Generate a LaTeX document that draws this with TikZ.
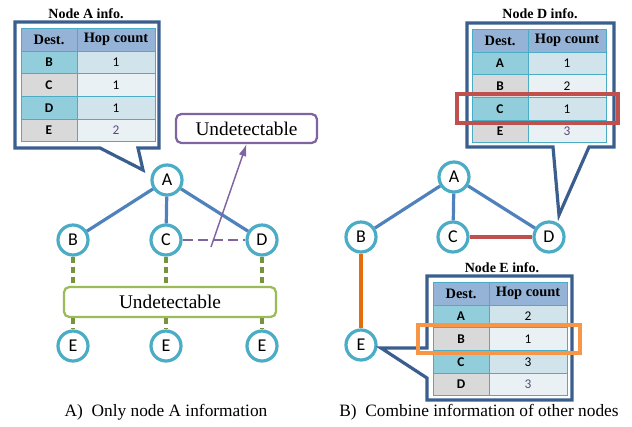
\documentclass[tikz,border=0pt]{standalone}
\usepackage{fontspec}
\setmainfont{Liberation Serif}
\newfontfamily\calib{Carlito}
\usetikzlibrary{arrows.meta}

\definecolor{circ}{HTML}{4BACC6}
\definecolor{linkblue}{HTML}{4F81BD}
\definecolor{purp}{HTML}{8064A2}
\definecolor{grnbox}{HTML}{9BBB59}
\definecolor{grndash}{HTML}{77933C}
\definecolor{redline}{HTML}{C0504D}
\definecolor{orgline}{HTML}{E46C0A}
\definecolor{orgbox}{HTML}{F79646}
\definecolor{callout}{HTML}{3A5F8F}
\definecolor{hdrfill}{HTML}{95B3D7}
\definecolor{destodd}{HTML}{92CDDC}
\definecolor{desteven}{HTML}{D9D9D9}
\definecolor{hopodd}{HTML}{D2E4EB}
\definecolor{hopeven}{HTML}{EAF1F5}
\definecolor{lastnum}{HTML}{5F497A}

\tikzset{
  peer/.style={circle, draw=circ, fill=white, line width=2.4pt,
    minimum size=22.5pt, inner sep=0pt, font=\calib\fontsize{13.5}{15}\selectfont},
  link/.style={draw=linkblue, line width=2.4pt},
  bubble/.style={draw=callout, fill=white, line width=2.4pt, line join=miter},
  grid/.style={draw=circ, line width=0.6pt},
  hdrtext/.style={font=\bfseries\fontsize{10.8}{12}\selectfont, inner sep=0pt},
  destext/.style={font=\calib\bfseries\fontsize{10}{11}\selectfont, inner sep=0pt},
  hoptext/.style={font=\calib\fontsize{10}{11}\selectfont, inner sep=0pt},
  title/.style={font=\bfseries\fontsize{10.5}{12}\selectfont, inner sep=0pt},
  notebox/.style={rounded corners=4pt, fill=white, line width=1.7pt,
    font=\fontsize{14.5}{16}\selectfont, inner sep=0pt},
  caption/.style={font=\fontsize{13}{15}\selectfont, inner sep=0pt},
  gdash/.style={draw=grndash, line width=2.5pt, dash pattern=on 4.5pt off 3pt},
  pdash/.style={draw=purp, line width=2.2pt, dash pattern=on 7.5pt off 3.8pt},
  mark box/.style={line width=2.4pt},
}

% routing table: #1 name, #2 left x, #3 divider x, #4 right x, #5 top y, #6 rows dest/hop
\newcommand{\routetable}[6]{%
  \pgfmathsetmacro{\rtHead}{#5+23}%
  \fill[hdrfill] (#2,#5) rectangle (#4,\rtHead);
  \node[hdrtext] (#1-h1) at ({(#2+#3)/2},{(#5+\rtHead)/2}) {Dest.};
  \node[hdrtext] (#1-h2) at ({(#3+#4)/2},{(#5+\rtHead)/2}) {Hop count};
  \foreach \rd/\rn [count=\ri] in {#6} {
    \pgfmathsetmacro{\ya}{\rtHead+(\ri-1)*22.7}
    \pgfmathsetmacro{\yb}{\rtHead+\ri*22.7}
    \ifodd\ri \def\dcol{destodd}\def\hcol{hopodd}\else\def\dcol{desteven}\def\hcol{hopeven}\fi
    \ifnum\ri=4 \def\ncol{lastnum}\else\def\ncol{black}\fi
    \fill[fill=\dcol] (#2,\ya) rectangle (#3,\yb);
    \fill[fill=\hcol] (#3,\ya) rectangle (#4,\yb);
    \node[destext] (#1-d\ri) at ({(#2+#3)/2},{(\ya+\yb)/2}) {\rd};
    \node[hoptext, text=\ncol] (#1-n\ri) at ({(#3+#4)/2},{(\ya+\yb)/2}) {\rn};
    \draw[grid] (#2,\ya) -- (#4,\ya);
  }
  \pgfmathsetmacro{\rtBot}{\rtHead+4*22.7}%
  \draw[grid] (#2,#5) rectangle (#4,\rtBot);
  \draw[grid] (#3,#5) -- (#3,\rtBot);
}

\begin{document}
\begin{tikzpicture}[x=0.75pt, y=-0.75pt]
\useasboundingbox (0,0) rectangle (632,426);

% ---------- A) only node A information ----------
\draw[bubble] (15,22) -- (159,22) -- (159,148) -- (138,148) -- (143,170)
  -- (100,148) -- (15,148) -- cycle;
\node[title] (tA) at (86,14) {Node A info.};
\routetable{ta}{21}{77}{155}{28}{B/1, C/1, D/1, E/2}

\node[peer] (aA) at (167,180) {A};
\node[peer] (aB) at (73,240) {B};
\node[peer] (aC) at (166,240) {C};
\node[peer] (aD) at (262,240) {D};
\node[peer] (aE1) at (73,346) {E};
\node[peer] (aE2) at (166,346) {E};
\node[peer] (aE3) at (262,346) {E};

\node[notebox, draw=grnbox, minimum width=159pt, minimum height=22.5pt] (undA) at (170,302) {Undetectable};
\node[notebox, draw=purp, minimum width=105.75pt, minimum height=21.75pt] (undB) at (246.5,128.5) {Undetectable};

\draw[link] (aA) -- (aB);
\draw[link] (aA) -- (aC);
\draw[link] (aA) -- (aD);
\draw[pdash] (aC) -- (aD);
\foreach \n in {B,C,D} {
  \draw[gdash] (a\n) -- (a\n |- undA.north);
}
\foreach \n in {1,2,3} {
  \draw[gdash] (undA.south -| aE\n) -- (aE\n);
}

\coordinate (pfoot) at (211,247);
\draw[draw=purp, line width=1.1pt, -{Latex[length=9pt,width=6pt]}] (pfoot) -- (undB.south);

% ---------- B) combined information ----------
\draw[bubble] (467,23) -- (614,23) -- (614,147) -- (589,147) -- (559,215)
  -- (553,147) -- (467,147) -- cycle;
\node[title] (tD) at (540,14) {Node D info.};
\routetable{td}{472}{528}{606}{29}{A/1, B/2, C/1, E/3}
\draw[mark box, draw=redline] (457,94) rectangle (618,123);

\node[peer] (bA) at (454,177) {A};
\node[peer] (bB) at (361,237) {B};
\node[peer] (bC) at (453,237) {C};
\node[peer] (bD) at (549,237) {D};
\node[peer] (bE) at (361,345) {E};

\draw[bubble] (427,276) -- (572,276) -- (572,400) -- (427,400) -- (427,378)
  -- (381,348) -- (427,348) -- cycle;
\node[title] (tE) at (502,268) {Node E info.};
\routetable{te}{433}{489}{567}{282}{A/2, B/1, C/3, D/3}
\draw[mark box, draw=orgbox] (418,325) rectangle (580,353);

\draw[link] (bA) -- (bB);
\draw[link] (bA) -- (bC);
\draw[link] (bA) -- (bD);
\draw[draw=redline, line width=2.4pt] (bC) -- (bD);
\draw[draw=orgline, line width=2.4pt] (bB) -- (bE);

% ---------- captions ----------
\node[caption] (capA) at (166,412) {A)\hspace{0.5em}Only node A information};
\node[caption] (capB) at (479,412) {B)\hspace{0.5em}Combine information of other nodes};
\end{tikzpicture}
\end{document}
